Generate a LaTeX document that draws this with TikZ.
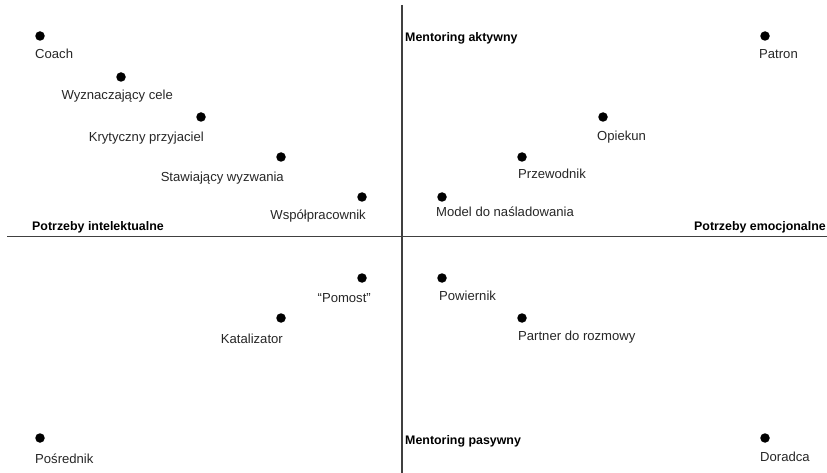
\documentclass[tikz,border=0pt]{standalone}
\usepackage{fontspec}
\setmainfont{Liberation Sans}
\begin{document}
\begin{tikzpicture}[x=1pt,y=-1pt,
  dot/.style={circle,fill=black,inner sep=0pt,minimum size=9.5pt},
  lbl/.style={inner sep=0pt,font=\fontsize{13.1}{15}\selectfont,text=black!85},
  axlbl/.style={inner sep=0pt,font=\fontsize{12.4}{14}\selectfont\bfseries},
  axis/.style={line width=1.5pt,draw=black!75}]
\useasboundingbox (0,0) rectangle (827,473);
% axes
\coordinate (vt) at (402,5);
\coordinate (vb) at (402,473);
\coordinate (hl) at (7,236.5);
\coordinate (hr) at (827,236.5);
\draw[axis] (vt) -- (vb);
\draw[axis] (hl) -- (hr);
% axis labels
\node[axlbl,anchor=base west] (ma) at (405,42) {Mentoring aktywny};
\node[axlbl,anchor=base west] (mp) at (405,444) {Mentoring pasywny};
\node[axlbl,anchor=base west] (pi) at (32,230) {Potrzeby intelektualne};
\node[axlbl,anchor=base east] (pe) at (826,230) {Potrzeby emocjonalne};
% dots
\node[dot] (d1) at (40,36) {};
\node[dot] (d2) at (121,77) {};
\node[dot] (d3) at (201,117) {};
\node[dot] (d4) at (281,157) {};
\node[dot] (d5) at (362,197) {};
\node[dot] (d6) at (765,36) {};
\node[dot] (d7) at (603,117) {};
\node[dot] (d8) at (522,157) {};
\node[dot] (d9) at (442,197) {};
\node[dot] (d10) at (362,278) {};
\node[dot] (d11) at (281,318) {};
\node[dot] (d12) at (40,438) {};
\node[dot] (d13) at (442,278) {};
\node[dot] (d14) at (522,318) {};
\node[dot] (d15) at (765,438) {};
% labels
\node[lbl,anchor=base west] (l1) at (35,59) {Coach};
\node[lbl,anchor=base east] (l2) at (173,100) {Wyznaczający cele};
\node[lbl,anchor=base east] (l3) at (204,142) {Krytyczny przyjaciel};
\node[lbl,anchor=base east] (l4) at (284,182) {Stawiający wyzwania};
\node[lbl,anchor=base east] (l5) at (366,219) {Współpracownik};
\node[lbl,anchor=base west] (l6) at (759,59) {Patron};
\node[lbl,anchor=base west] (l7) at (597,141) {Opiekun};
\node[lbl,anchor=base west] (l8) at (518,179) {Przewodnik};
\node[lbl,anchor=base west] (l9) at (436,217) {Model do naśladowania};
\node[lbl,anchor=base east] (l10) at (371,302) {“Pomost”};
\node[lbl,anchor=base east] (l11) at (283,343) {Katalizator};
\node[lbl,anchor=base west] (l12) at (35,463) {Pośrednik};
\node[lbl,anchor=base west] (l13) at (439,300) {Powiernik};
\node[lbl,anchor=base west] (l14) at (518,340) {Partner do rozmowy};
\node[lbl,anchor=base west] (l15) at (760,461) {Doradca};
\end{tikzpicture}
\end{document}
